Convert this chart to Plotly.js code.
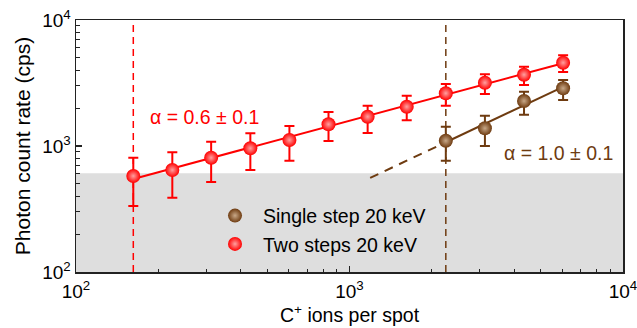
<!DOCTYPE html>
<html>
<head>
<meta charset="utf-8">
<script src="https://cdn.plot.ly/plotly-3.0.1.min.js"></script>
<style>html,body{margin:0;padding:0;background:#fff}#chart{width:637px;height:328px}</style>
</head>
<body>
<div id="chart"></div>
<script>
// Two steps 20 keV (red)
const twoX = [162, 225, 312, 434, 603, 838, 1165, 1619, 2250, 3127, 4346, 6040];
const twoY = [578, 645, 807, 959, 1116, 1487, 1708, 2050, 2620, 3180, 3680, 4583];
const twoErrUp = [807, 891, 1082, 1261, 1441, 1861, 2089, 2507, 3105, 3707, 4260, 5246];
const twoErrDown = [334, 389, 518, 645, 764, 1096, 1268, 1600, 2089, 2587, 3049, 3867];
// Single step 20 keV (brown)
const oneX = [2250, 3127, 4346, 6040];
const oneY = [1102, 1382, 2276, 2870];
const oneErrUp = [1423, 1740, 2698, 3340];
const oneErrDown = [764, 1000, 1772, 2318];
// Background (noise) level and thresholds
const noiseLevel = 607;
const thresholdRed = 162;
const thresholdBrown = 2250;
const extensionStart = 1190;
const tickVals = [100, 1000, 10000];
const tickText = ['10<sup>2</sup>', '10<sup>3</sup>', '10<sup>4</sup>'];

const RED = '#ff0000';
const BROWN = '#6e3b10';
const FONT = 'Liberation Sans, Arial, sans-serif';

function fit(xs, ys) {
  const lx = xs.map(Math.log10), ly = ys.map(Math.log10);
  const n = lx.length;
  const mx = lx.reduce((a, b) => a + b, 0) / n, my = ly.reduce((a, b) => a + b, 0) / n;
  let sxy = 0, sxx = 0;
  for (let i = 0; i < n; i++) { sxy += (lx[i] - mx) * (ly[i] - my); sxx += (lx[i] - mx) ** 2; }
  const m = sxy / sxx, c = my - m * mx;
  return x => Math.pow(10, m * Math.log10(x) + c);
}
const fRed = fit(twoX, twoY);
const fBrown = fit(oneX, oneY);

const plus = (v, e) => e.map((u, i) => u - v[i]);
const minus = (v, e) => e.map((d, i) => v[i] - d);

const traces = [
  {x: [twoX[0], twoX[twoX.length - 1]], y: [fRed(twoX[0]), fRed(twoX[twoX.length - 1])],
   mode: 'lines', line: {color: RED, width: 2}, showlegend: false, hoverinfo: 'skip'},
  {x: [oneX[0], oneX[oneX.length - 1]], y: [fBrown(oneX[0]), fBrown(oneX[oneX.length - 1])],
   mode: 'lines', line: {color: BROWN, width: 2}, showlegend: false, hoverinfo: 'skip'},
  {x: [extensionStart, oneX[0]], y: [fBrown(extensionStart), fBrown(oneX[0])],
   mode: 'lines', line: {color: BROWN, width: 2, dash: '9px,7px'}, showlegend: false, hoverinfo: 'skip'},
  {x: oneX, y: oneY, mode: 'markers', name: 'Single step 20 keV', legendrank: 1,
   marker: {color: BROWN, size: 14, gradient: {type: 'radial', color: '#c8a888'}},
   error_y: {type: 'data', symmetric: false, array: plus(oneY, oneErrUp), arrayminus: minus(oneY, oneErrDown),
             color: BROWN, thickness: 2, width: 5}},
  {x: twoX, y: twoY, mode: 'markers', name: 'Two steps 20 keV', legendrank: 2,
   marker: {color: RED, size: 14, gradient: {type: 'radial', color: '#ffa0a0'}},
   error_y: {type: 'data', symmetric: false, array: plus(twoY, twoErrUp), arrayminus: minus(twoY, twoErrDown),
             color: RED, thickness: 2, width: 5}}
];

const axisCommon = {
  type: 'log', showgrid: false, zeroline: false, showline: true, linecolor: '#222', linewidth: 1.5,
  mirror: true, ticks: 'inside', ticklen: 6, tickwidth: 1.2, tickcolor: '#222',
  tickvals: tickVals, ticktext: tickText, ticklabeloverflow: 'allow',
  tickfont: {family: FONT, size: 19, color: '#000'},
  minor: {ticks: 'inside', ticklen: 3.5, tickwidth: 1, tickcolor: '#222', dtick: 'D1', showgrid: false}
};

const layout = {
  width: 637, height: 328,
  margin: {l: 76, r: 14, t: 20, b: 56},
  paper_bgcolor: '#fff', plot_bgcolor: '#fff',
  font: {family: FONT, color: '#000'},
  xaxis: Object.assign({}, axisCommon, {range: [2, 4], ticklabelstandoff: 2,
    title: {text: 'C<sup>+</sup> ions per spot', font: {family: FONT, size: 19.5, color: '#000'}, standoff: 6}}),
  yaxis: Object.assign({}, axisCommon, {range: [2, 4],
    title: {text: 'Photon count rate (cps)', font: {family: FONT, size: 21, color: '#000'}, standoff: 6}}),
  shapes: [
    {type: 'rect', xref: 'paper', yref: 'y', x0: 0, x1: 1, y0: 100, y1: noiseLevel,
     fillcolor: '#dedede', line: {width: 0}, layer: 'below'},
    {type: 'line', xref: 'x', yref: 'paper', x0: thresholdRed, x1: thresholdRed, y0: 0, y1: 0.98,
     line: {color: RED, width: 1.5, dash: '7px,5px'}, layer: 'below'},
    {type: 'line', xref: 'x', yref: 'paper', x0: thresholdBrown, x1: thresholdBrown, y0: 0, y1: 0.98,
     line: {color: BROWN, width: 1.5, dash: '7px,5px'}, layer: 'below'}
  ],
  annotations: [
    {xref: 'paper', yref: 'paper', x: 0.131, y: 0.617, xanchor: 'left', yanchor: 'middle', showarrow: false,
     text: 'α = 0.6 ± 0.1', font: {family: FONT, size: 19.5, color: RED}},
    {xref: 'paper', yref: 'paper', x: 0.779, y: 0.472, xanchor: 'left', yanchor: 'middle', showarrow: false,
     text: 'α = 1.0 ± 0.1', font: {family: FONT, size: 19.5, color: BROWN}}
  ],
  legend: {x: 0.2395, y: 0.3, xanchor: 'left', yanchor: 'top', bgcolor: 'rgba(0,0,0,0)',
           font: {family: FONT, size: 19.5, color: '#000'}, itemwidth: 46, tracegroupgap: 0},
  showlegend: true
};

Plotly.newPlot('chart', traces, layout, {displayModeBar: false, staticPlot: true});
</script>
</body>
</html>
